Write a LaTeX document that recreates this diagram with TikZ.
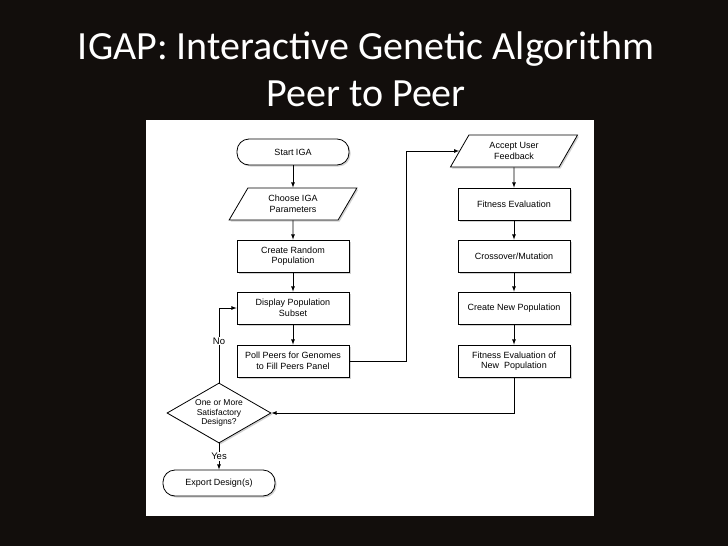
\documentclass[tikz,border=0pt]{standalone}
\usepackage{fontspec}
\setmainfont{Carlito}
\newfontfamily\chartfont{Liberation Sans}
\usetikzlibrary{shapes.geometric,shadows,positioning}
\definecolor{slidebg}{RGB}{18,14,12}
\tikzset{
  box/.style={draw, thick, fill=white, minimum width=112pt, minimum height=32pt,
    align=center, font=\chartfont\fontsize{9}{10.5}\selectfont,
    drop shadow={shadow xshift=1.5pt, shadow yshift=-1.5pt, opacity=0.35}},
  term/.style={box, rounded corners=12pt, minimum height=26pt},
  io/.style={box, trapezium, trapezium left angle=60, trapezium right angle=120,
    trapezium stretches=true, minimum width=128pt, minimum height=32pt,
    inner xsep=2pt, inner ysep=1pt},
  choice/.style={box, diamond, aspect=1.75, minimum width=104pt, minimum height=60pt,
    inner sep=-2pt, font=\chartfont\fontsize{8.5}{9.5}\selectfont},
  flow/.style={thick, -latex}
}
\begin{document}
\begin{tikzpicture}[x=1pt,y=-1pt]
  \useasboundingbox (0,0) rectangle (728,546);
  \fill[slidebg] (0,0) rectangle (728,546);
  % title
  \node[text=white, font=\fontsize{40}{47}\selectfont, align=center] (title) at (366,69)
    {IGAP: Interactive Genetic Algorithm\\Peer to Peer};
  \fill[white] (146,120) rectangle (594,516);

  % left column
  \node[term] (start) at (293,152) {Start IGA};
  \node[io] (params) at (293,204) {Choose IGA\\Parameters};
  \node[box] (random) at (293,256) {Create Random\\Population};
  \node[box] (display) at (293,308) {Display Population\\Subset};
  \node[box] (poll) at (293,361) {Poll Peers for Genomes\\to Fill Peers Panel};
  \node[choice] (satis) at (219,413) {One or More\\Satisfactory\\Designs?};
  \node[term] (export) at (219,483) {Export Design(s)};

  % right column
  \node[io] (accept) at (514,151) {Accept User\\Feedback};
  \node[box] (fit) at (514,204) {Fitness Evaluation};
  \node[box] (cross) at (514,256) {Crossover/Mutation};
  \node[box] (newpop) at (514,308) {Create New Population};
  \node[box] (fitnew) at (514,361) {Fitness Evaluation of\\New\ \ Population};

  \coordinate (up) at (406,361);
  \coordinate (upend) at (406,151);

  \draw[flow] (start) -- (params);
  \draw[flow] (params) -- (random);
  \draw[flow] (random) -- (display);
  \draw[flow] (display) -- (poll);
  \draw[flow] (poll.east) -- (up) -- (upend) -- (accept.west |- upend);
  \draw[flow] (accept) -- (fit);
  \draw[flow] (fit) -- (cross);
  \draw[flow] (cross) -- (newpop);
  \draw[flow] (newpop) -- (fitnew);
  \draw[flow] (fitnew.south) |- (satis.east);
  \draw[flow] (satis.north) |- (display.west)
    node[pos=0.28, fill=white, font=\chartfont\fontsize{9.5}{11}\selectfont, inner sep=1pt] (no) {No};
  \draw[flow] (satis.south) -- (export.north)
    node[midway, fill=white, font=\chartfont\fontsize{9.5}{11}\selectfont, inner sep=1pt] (yes) {Yes};
\end{tikzpicture}
\end{document}
